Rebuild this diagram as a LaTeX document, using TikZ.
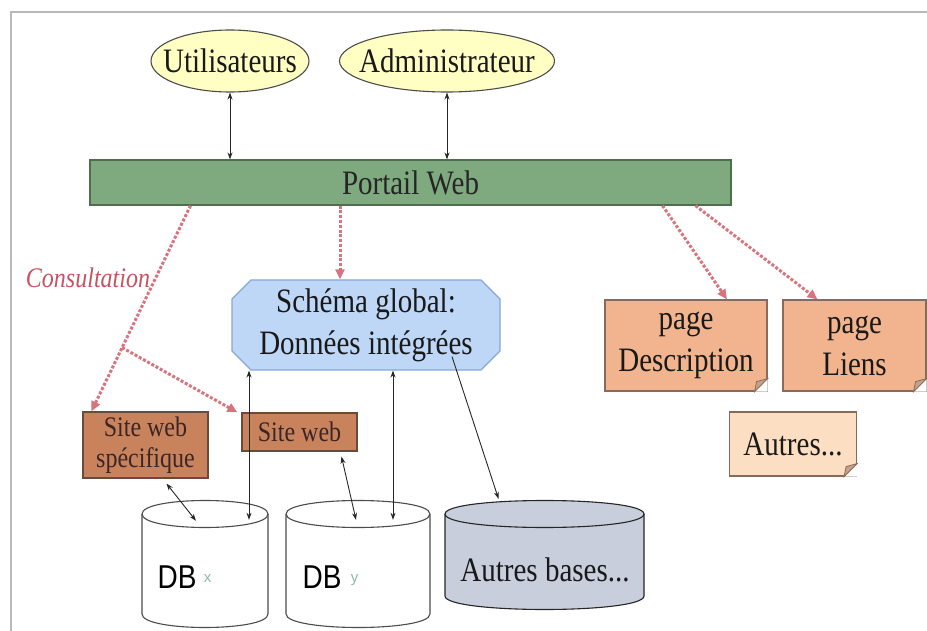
\documentclass[tikz,border=0pt]{standalone}
\usepackage{fontspec}
\usepackage{graphicx}
\setmainfont{Liberation Serif}
\newfontfamily\dbsans{Liberation Sans}
\usetikzlibrary{shapes.geometric,shapes.misc,arrows.meta,calc}
\newcommand\vstr[1]{\scalebox{1}[1.18]{#1}}
\definecolor{ellfill}{HTML}{FFFFC4}
\definecolor{portfill}{HTML}{7FAA7F}
\definecolor{portdraw}{HTML}{4E6E4E}
\definecolor{schfill}{HTML}{BED7F7}
\definecolor{schdraw}{HTML}{86A6D6}
\definecolor{sitefill}{HTML}{C8835D}
\definecolor{sitedraw}{HTML}{6A4A3A}
\definecolor{sitetext}{HTML}{3A2626}
\definecolor{pagefill}{HTML}{F2B48E}
\definecolor{pagedraw}{HTML}{8A6A5A}
\definecolor{autfill}{HTML}{FCDEC2}
\definecolor{foldfill}{HTML}{C8A08A}
\definecolor{abfill}{HTML}{C9CEDD}
\definecolor{reddash}{HTML}{D8747E}
\definecolor{consred}{HTML}{C85262}
\definecolor{subgreen}{HTML}{8FB8A8}
\begin{document}
\begin{tikzpicture}[x=1pt,y=-1pt,
  bigfont/.style={font=\fontsize{29}{44}\selectfont},
  ell/.style={ellipse, draw=black!70, fill=ellfill, line width=1.1, inner sep=0, minimum height=62, bigfont, text=black!90},
  bar/.style={rectangle, draw=portdraw, fill=portfill, line width=1.2, inner sep=0, bigfont, text=black!85},
  schem/.style={chamfered rectangle, chamfered rectangle xsep=16pt, draw=schdraw, fill=schfill, line width=1.2, inner sep=0, align=center, font=\fontsize{29}{42}\selectfont, text=black!90},
  sitebox/.style={rectangle, draw=sitedraw, fill=sitefill, line width=1.2, inner sep=0, align=center, font=\fontsize{24}{31}\selectfont, text=sitetext},
  pagebox/.style={rectangle, draw=pagedraw, fill=pagefill, line width=1.2, inner sep=0, align=center, font=\fontsize{29}{42}\selectfont, text=black!90},
  cylnode/.style={rectangle, inner sep=0, draw=none},
  cylfill/.style={line width=1.1},
  biar/.style={draw=black!85, line width=0.9, {Stealth[length=7pt,width=5pt]}-{Stealth[length=7pt,width=5pt]}},
  onear/.style={draw=black!85, line width=0.9, -{Stealth[length=7pt,width=5pt]}},
  redd/.style={draw=reddash, line width=3, dash pattern=on 3pt off 1.8pt, -{Triangle[length=10pt,width=9pt]}}
]
\useasboundingbox (0,0) rectangle (927,631);
% frame
\draw[gray!55, line width=1.6] (11,631) -- (11,12) -- (927,12);

% top ellipses and portal
\node[ell, minimum width=158] (util) at (230,61) {\makebox[0pt]{\vstr{Utilisateurs}}};
\node[ell, minimum width=215] (admin) at (447,61) {\makebox[0pt]{\vstr{Administrateur}}};
\node[bar, minimum width=641, minimum height=45] (portail) at (410.5,182.5) {\vstr{Portail Web}};

% schema
\node[schem, minimum width=268, minimum height=90] (schema) at (366,325) {\vstr{Schéma global:}\\\vstr{Données intégrées}};

% site boxes
\node[sitebox, minimum width=125, minimum height=66] (sws) at (145.5,445) {\vstr{Site web}\\\vstr{spécifique}};
\node[sitebox, minimum width=115, minimum height=38] (sw) at (299.5,432) {\vstr{Site web}};

% pages
\node[pagebox, minimum width=162, minimum height=91] (pdesc) at (686,345.5) {\vstr{page}\\\vstr{Description}};
\node[pagebox, minimum width=143, minimum height=91] (pliens) at (854.5,345.5) {\vstr{page}\\\vstr{Liens}};
\node[pagebox, fill=autfill, minimum width=127, minimum height=64] (autres) at (793,444) {\vstr{Autres...}};
\foreach \p in {pdesc,pliens,autres}{
  \fill[white] (\p.south east) -- ++(-13,0) -- ++(13,-13) -- cycle;
  \filldraw[fill=foldfill, draw=pagedraw, line width=0.8] ($(\p.south east)+(-13,0)$) -- ++(13,-13) -- ++(-11,3) -- cycle;
}

% cylinders
\path[cylfill, draw=black!70, fill=white] (142,514) -- (142,614) .. controls (142,632) and (268,632) .. (268,614) -- (268,514) .. controls (268,496) and (142,496) .. (142,514) -- cycle;
\draw[cylfill, draw=black!70] (142,514) .. controls (142,532) and (268,532) .. (268,514);
\path[cylfill, draw=black!70, fill=white] (286,514) -- (286,614) .. controls (286,632) and (430,632) .. (430,614) -- (430,514) .. controls (430,496) and (286,496) .. (286,514) -- cycle;
\draw[cylfill, draw=black!70] (286,514) .. controls (286,532) and (430,532) .. (430,514);
\path[cylfill, draw=black!85, fill=abfill] (445,514) -- (445,596) .. controls (445,614) and (644,614) .. (644,596) -- (644,514) .. controls (644,496) and (445,496) .. (445,514) -- cycle;
\draw[cylfill, draw=black!85] (445,514) .. controls (445,532) and (644,532) .. (644,514);

\node[cylnode, minimum width=126, minimum height=128] (dbx) at (205,564) {};
\node[cylnode, minimum width=144, minimum height=128] (dby) at (358,564) {};
\node[cylnode, minimum width=199, minimum height=110] (ab) at (544.5,555) {};
\node[font=\dbsans\fontsize{28}{28}\selectfont, anchor=base, inner sep=0] (dbxt) at (177,588) {\vstr{DB}};
\node[font=\dbsans\fontsize{15}{15}\selectfont, text=subgreen, anchor=base west, inner sep=0] (dbxs) at ([shift={(7,-6)}]dbxt.base east) {x};
\node[font=\dbsans\fontsize{28}{28}\selectfont, anchor=base, inner sep=0] (dbyt) at (322,588) {\vstr{DB}};
\node[font=\dbsans\fontsize{15}{15}\selectfont, text=subgreen, anchor=base west, inner sep=0] (dbys) at ([shift={(9,-6)}]dbyt.base east) {y};
\node[bigfont, anchor=base, inner sep=0, text=black!90] (abt) at (545,581) {\vstr{Autres bases...}};

% consultation label
\node[font=\itshape\fontsize{24}{24}\selectfont, text=consred, inner sep=0] (cons) at (88,278) {\vstr{Consultation}};

% connectors: user/admin <-> portal
\draw[biar] (util.south) -- (util.south |- portail.north);
\draw[biar] (admin.south) -- (admin.south |- portail.north);

% red dashed
\draw[redd] ([xshift=-26]schema.north |- portail.south) -- ([xshift=-26]schema.north);
\draw[redd] ([xshift=-220]portail.south) -- coordinate[pos=0.69] (br) ([xshift=9]sws.north west);
\draw[redd] (br) -- ([xshift=-4]sw.north west);
\draw[redd] ([xshift=252]portail.south) -- ([xshift=41]pdesc.north);
\draw[redd] ([xshift=285]portail.south) -- ([xshift=-37]pliens.north);

% black connectors
\draw[biar] ([xshift=-117]schema.south) -- ([shift={(44,20)}]dbx.north);
\draw[biar] ([xshift=27]schema.south) -- ([shift={(35,20)}]dby.north);
\draw[biar] ([shift={(21,5)}]sws.south) -- ([shift={(-9,21)}]dbx.north);
\draw[biar] ([shift={(42,5)}]sw.south) -- ([shift={(-2,20)}]dby.north);
\draw[onear] ([shift={(86,-14)}]schema.south) -- ([shift={(-46,-1)}]ab.north);
\end{tikzpicture}
\end{document}
